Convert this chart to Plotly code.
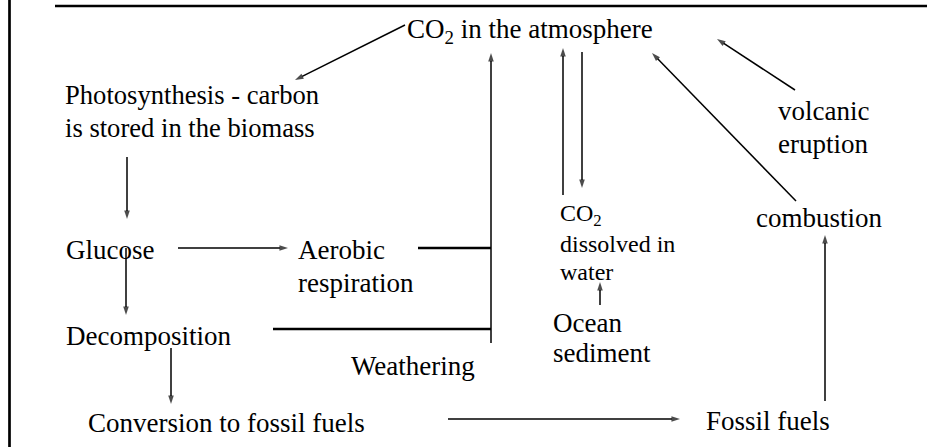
import plotly.graph_objects as go

# ---- diagram content (pixel coordinate system: x right, y down) ----
label_text = [
    "CO<sub>2</sub> in the atmosphere",
    "Photosynthesis - carbon",
    "is stored in the biomass",
    "Glucose",
    "Aerobic",
    "respiration",
    "Decomposition",
    "Weathering",
    "Conversion to fossil fuels",
    "CO<sub>2</sub>",
    "dissolved in",
    "water",
    "Ocean",
    "sediment",
    "volcanic",
    "eruption",
    "combustion",
    "Fossil fuels",
]
label_left = [406, 64, 64, 65, 297, 297, 65, 350, 87, 559, 559, 559, 552, 552, 777, 777, 755, 705]
label_baseline = [40, 104, 137, 259, 259, 292, 345, 375, 432, 223, 252, 280, 332, 362, 120, 153, 227, 430]
label_size = [27, 26.6, 26.6, 27, 27, 27, 27, 27, 27, 24, 24, 24, 27, 27, 27, 27, 27, 27]

# arrows: start (x0, y0) -> tip (x1, y1)
arrow_x0 = [405, 127, 178, 126, 171, 491, 563, 582, 600, 448, 825, 796, 795]
arrow_y0 = [25, 157, 248, 248, 348, 343, 195, 52, 305, 419, 401, 201, 90]
arrow_x1 = [295, 127, 288, 126, 171, 491, 563, 582, 600, 680, 825, 652, 717]
arrow_y1 = [80, 219, 248, 315, 404, 53, 48, 188, 282, 419, 235, 53, 39]

# plain connector / frame lines
line_x0 = [418, 273, 9.5, 55]
line_y0 = [248, 329, 0, 6]
line_x1 = [491, 491, 9.5, 927]
line_y1 = [248, 329, 447, 6]
line_w = [2.5, 2.5, 2.7, 2.7]

W, H = 952, 447
FONT = "Liberation Serif, Times New Roman, serif"

fig = go.Figure()

# arrows drawn as line traces with an arrow marker at the tip
for x0, y0, x1, y1 in zip(arrow_x0, arrow_y0, arrow_x1, arrow_y1):
    fig.add_trace(go.Scatter(
        x=[x0, x1], y=[y0, y1], mode="lines+markers",
        line=dict(color="black", width=1.5),
        marker=dict(symbol=["circle", "arrow"], size=[0, 9], color="black",
                    angleref="previous", line=dict(width=0)),
        hoverinfo="skip", showlegend=False))

shapes = []
for x0, y0, x1, y1, w in zip(line_x0, line_y0, line_x1, line_y1, line_w):
    shapes.append(dict(type="line", xref="x", yref="y", x0=x0, y0=y0, x1=x1, y1=y1,
                       line=dict(color="black", width=w)))

annotations = []
for t, lx, bl, s in zip(label_text, label_left, label_baseline, label_size):
    annotations.append(dict(text=t, x=lx, y=bl - 0.34 * s, xref="x", yref="y",
                            xanchor="left", yanchor="middle", showarrow=False,
                            font=dict(family=FONT, size=s, color="black"),
                            borderpad=0))

fig.update_layout(
    width=W, height=H,
    margin=dict(l=0, r=0, t=0, b=0),
    paper_bgcolor="white", plot_bgcolor="white",
    xaxis=dict(range=[0, W], visible=False, fixedrange=True),
    yaxis=dict(range=[H, 0], visible=False, fixedrange=True),
    shapes=shapes, annotations=annotations,
    showlegend=False,
)

fig.write_html("out.html", config={"displayModeBar": False},
               post_script="document.body.style.margin='0';document.body.style.overflow='hidden';")
